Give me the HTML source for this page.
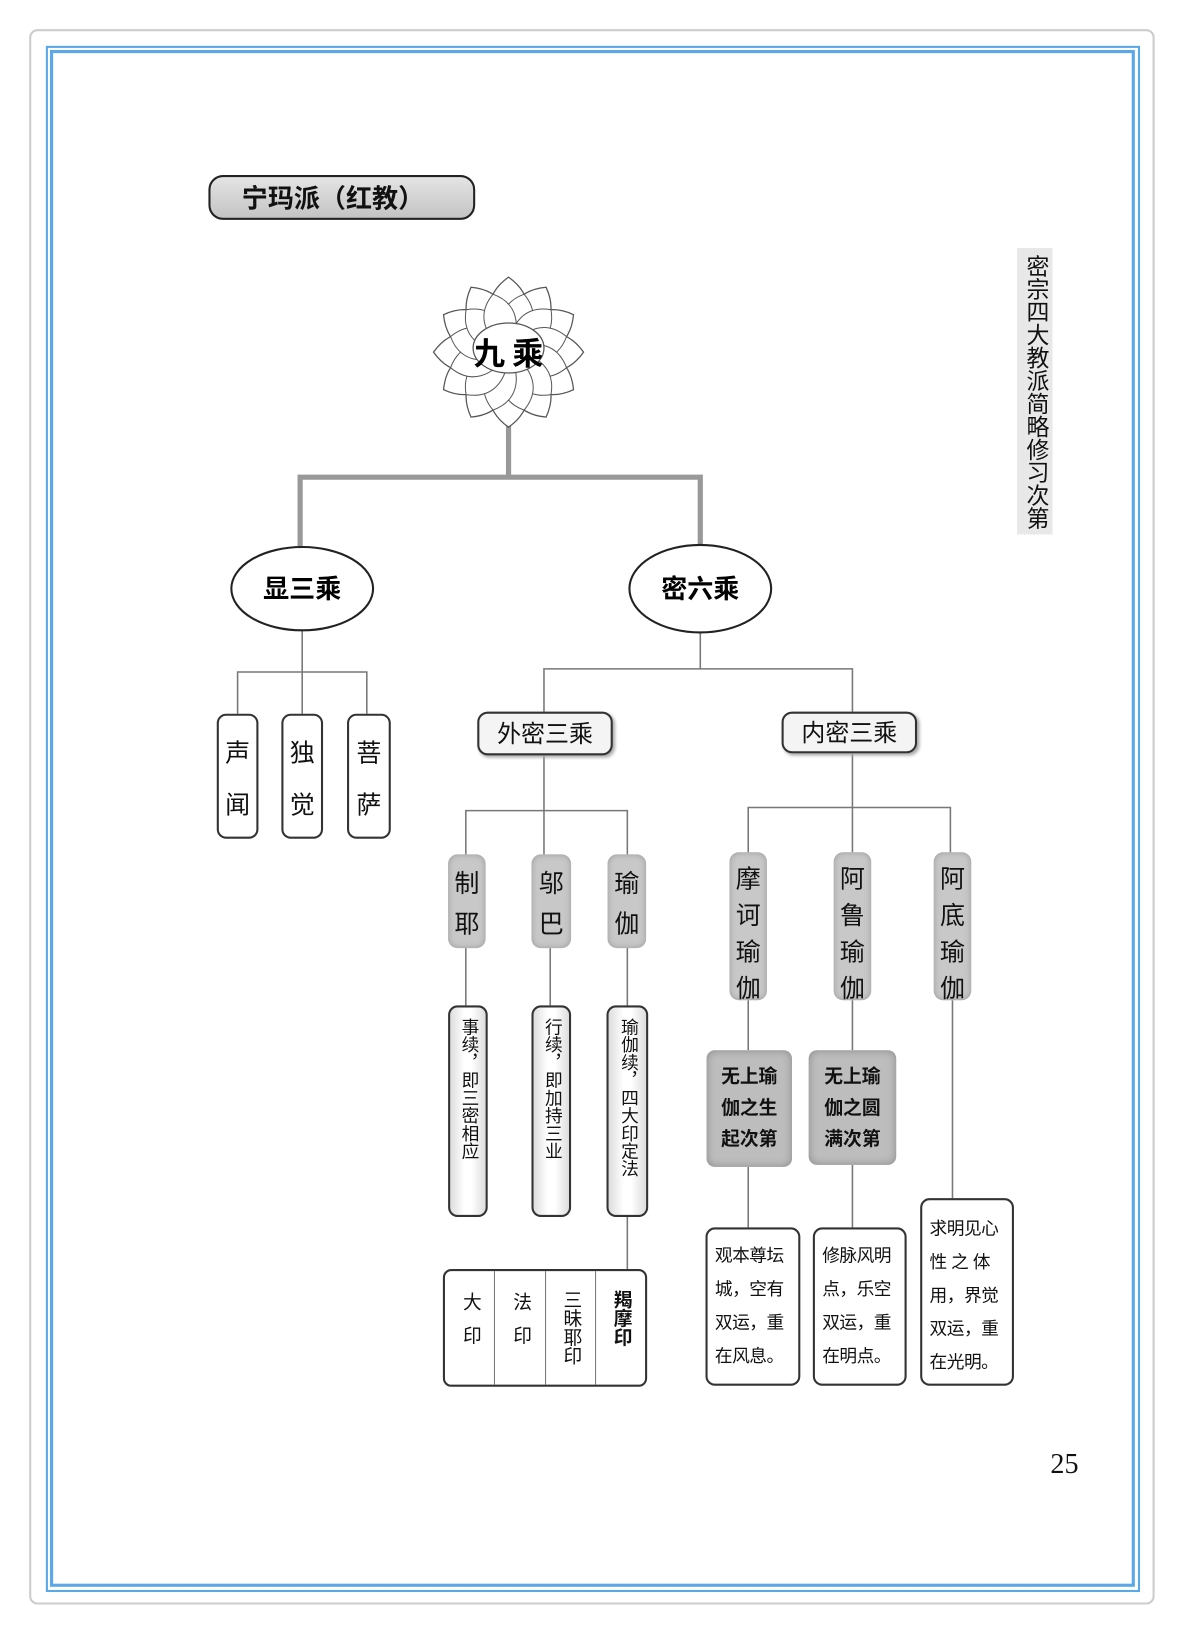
<!DOCTYPE html>
<html><head><meta charset="utf-8">
<style>
html,body{margin:0;padding:0;background:#fff;width:1188px;height:1640px;overflow:hidden}
#w{position:absolute;left:0;top:0;width:1140px;height:1574px;transform:scale(1.0421,1.0419);transform-origin:0 0;font-family:"Liberation Sans","Noto Sans CJK SC",sans-serif;color:#111}
.a{position:absolute;box-sizing:border-box}
.vb{border:2px solid #333;border-radius:9px;background:#fff;display:flex;flex-direction:column;align-items:center;justify-content:space-around;font-size:24px;padding:8px 0}
.gp{background:#c8c8c8;border-radius:9px;display:flex;flex-direction:column;align-items:center;justify-content:space-around;font-size:24px;padding:6px 0;box-shadow:inset 0 0 6px #999}
.tb{border:2px solid #333;border-radius:9px;background:#fff;writing-mode:vertical-rl;font-size:17px;display:flex;align-items:center;padding-top:10px;line-height:36px;justify-content:flex-start}
.pb{border:2px solid #333;border-radius:9px;background:#fff;font-size:17px;line-height:32px;padding:10px 0 0 7px;white-space:nowrap;letter-spacing:-0.5px}
.gb{background:#bdbdbd;border-radius:8px;font-size:18px;font-weight:bold;line-height:30px;text-align:center;padding-top:10px;box-shadow:inset 0 0 8px #888;white-space:nowrap}
</style></head><body><div id="w">
<div class="a" style="left:28px;top:28px;width:1080px;height:1512px;border:2px solid #ccc;border-radius:8px"></div>
<div class="a" style="left:44px;top:44px;width:1050px;height:1484px;border:2px solid #5aa8e8"></div>
<div class="a" style="left:48px;top:48px;width:1041px;height:1475px;border:3px solid #5aa8e8"></div>

<div class="a" style="left:200px;top:168px;width:256px;height:43px;border:2px solid #222;border-radius:14px;background:linear-gradient(#e4e4e4,#c4c4c4);font-size:25px;font-weight:bold;font-family:'Noto Sans CJK SC',sans-serif;line-height:38px;padding-left:30px">宁玛派（红教）</div>

<div class="a" style="left:976px;top:238px;width:34px;height:275px;background:#e8e8e8;writing-mode:vertical-rl;font-size:22px;line-height:32px;text-align:center">密宗四大教派简略修习次第</div>

<svg class="a" style="left:0;top:0" width="1140" height="1574">
<defs><path id="p1" d="M0 0 C-26 -28 -24 -55 0 -72 C24 -55 26 -28 0 0Z"/></defs>
<g stroke="#999" stroke-width="5" fill="none">
<path d="M488 405V458M288 530V458H672V530"/>
</g>
<g stroke="#777" stroke-width="1.5" fill="none">
<path d="M290 605V645M228 685V645H352V685M290 645V685"/>
<path d="M672 607V642M522 683V642H818V683"/>
<path d="M522 725V778M447 820V778H602V820M522 778V820"/>
<path d="M818 723V775M718 818V775H912V818M818 775V818"/>
<path d="M447 910V965M528 910V965M602 910V965M602 1168V1218"/>
<path d="M718 960V1008M818 960V1008M718 1120V1178M818 1118V1178M914 960V1150"/>
</g>
<g transform="translate(488,338)" stroke="#555" stroke-width="1.2" fill="#fff">
<use href="#p1"/><use href="#p1" transform="rotate(30)"/><use href="#p1" transform="rotate(60)"/><use href="#p1" transform="rotate(90)"/><use href="#p1" transform="rotate(120)"/><use href="#p1" transform="rotate(150)"/><use href="#p1" transform="rotate(180)"/><use href="#p1" transform="rotate(210)"/><use href="#p1" transform="rotate(240)"/><use href="#p1" transform="rotate(270)"/><use href="#p1" transform="rotate(300)"/><use href="#p1" transform="rotate(330)"/>
<g transform="rotate(15) scale(0.8)"><use href="#p1"/><use href="#p1" transform="rotate(30)"/><use href="#p1" transform="rotate(60)"/><use href="#p1" transform="rotate(90)"/><use href="#p1" transform="rotate(120)"/><use href="#p1" transform="rotate(150)"/><use href="#p1" transform="rotate(180)"/><use href="#p1" transform="rotate(210)"/><use href="#p1" transform="rotate(240)"/><use href="#p1" transform="rotate(270)"/><use href="#p1" transform="rotate(300)"/><use href="#p1" transform="rotate(330)"/></g>
<ellipse cx="0" cy="-4" rx="34" ry="24"/>
</g>
<text x="488" y="350" text-anchor="middle" font-size="30" font-weight="bold" font-family="'Noto Sans CJK SC',sans-serif">九 乘</text>
<ellipse cx="290" cy="565" rx="68" ry="40" fill="#fff" stroke="#222" stroke-width="2"/>
<ellipse cx="672" cy="565" rx="68" ry="42" fill="#fff" stroke="#222" stroke-width="2"/>
<text x="290" y="574" text-anchor="middle" font-size="25" font-weight="bold" font-family="'Noto Sans CJK SC',sans-serif">显三乘</text>
<text x="672" y="574" text-anchor="middle" font-size="25" font-weight="bold" font-family="'Noto Sans CJK SC',sans-serif">密六乘</text>
</svg>

<div class="a vb" style="left:208px;top:685px;width:40px;height:120px"><span>声</span><span>闻</span></div>
<div class="a vb" style="left:270px;top:685px;width:40px;height:120px"><span>独</span><span>觉</span></div>
<div class="a vb" style="left:333px;top:685px;width:42px;height:120px"><span>菩</span><span>萨</span></div>

<div class="a" style="left:458px;top:683px;width:130px;height:42px;border:2px solid #333;border-radius:10px;background:#f4f4f4;box-shadow:2px 2px 3px #aaa;font-size:23px;text-align:center;line-height:38px">外密三乘</div>
<div class="a" style="left:750px;top:683px;width:130px;height:40px;border:2px solid #333;border-radius:10px;background:#f4f4f4;box-shadow:2px 2px 3px #aaa;font-size:23px;text-align:center;line-height:36px">内密三乘</div>

<div class="a gp" style="left:430px;top:820px;width:36px;height:90px"><span>制</span><span>耶</span></div>
<div class="a gp" style="left:510px;top:820px;width:38px;height:90px"><span>邬</span><span>巴</span></div>
<div class="a gp" style="left:583px;top:820px;width:37px;height:90px"><span>瑜</span><span>伽</span></div>

<div class="a gp" style="left:700px;top:818px;width:36px;height:142px"><span>摩</span><span>诃</span><span>瑜</span><span>伽</span></div>
<div class="a gp" style="left:800px;top:818px;width:36px;height:142px"><span>阿</span><span>鲁</span><span>瑜</span><span>伽</span></div>
<div class="a gp" style="left:896px;top:818px;width:36px;height:142px"><span>阿</span><span>底</span><span>瑜</span><span>伽</span></div>

<div class="a tb" style="left:430px;top:965px;width:38px;height:203px;background:linear-gradient(90deg,#ddd,#fff 40%,#fff 60%,#ddd)">事续，即三密相应</div>
<div class="a tb" style="left:510px;top:965px;width:38px;height:203px;background:linear-gradient(90deg,#ddd,#fff 40%,#fff 60%,#ddd)">行续，即加持三业</div>
<div class="a tb" style="left:582px;top:965px;width:40px;height:203px;background:linear-gradient(90deg,#ddd,#fff 40%,#fff 60%,#ddd)">瑜伽续，四大印定法</div>

<div class="a" style="left:425px;top:1218px;width:196px;height:113px;border:2px solid #333;border-radius:8px;display:flex">
<div style="flex:1;border-right:1px solid #777;writing-mode:vertical-rl;font-size:18px;line-height:44px;padding-top:20px;letter-spacing:14px">大印</div>
<div style="flex:1;border-right:1px solid #777;writing-mode:vertical-rl;font-size:18px;line-height:44px;padding-top:20px;letter-spacing:14px">法印</div>
<div style="flex:1;border-right:1px solid #777;writing-mode:vertical-rl;font-size:18px;line-height:44px;padding-top:18px">三昧耶印</div>
<div style="flex:1;writing-mode:vertical-rl;font-size:18px;line-height:44px;padding-top:18px;font-weight:bold">羯摩印</div>
</div>

<div class="a gb" style="left:678px;top:1008px;width:82px;height:112px">无上瑜<br>伽之生<br>起次第</div>
<div class="a gb" style="left:776px;top:1008px;width:84px;height:110px">无上瑜<br>伽之圆<br>满次第</div>

<div class="a pb" style="left:677px;top:1178px;width:91px;height:152px">观本尊坛<br>城，空有<br>双运，重<br>在风息。</div>
<div class="a pb" style="left:780px;top:1178px;width:90px;height:152px">修脉风明<br>点，乐空<br>双运，重<br>在明点。</div>
<div class="a pb" style="left:883px;top:1150px;width:90px;height:180px;padding-top:12px">求明见心<br>性 之 体<br>用，界觉<br>双运，重<br>在光明。</div>

<div class="a" style="left:1008px;top:1390px;font-family:'Liberation Serif',serif;font-size:27px">25</div>
</div></body></html>
